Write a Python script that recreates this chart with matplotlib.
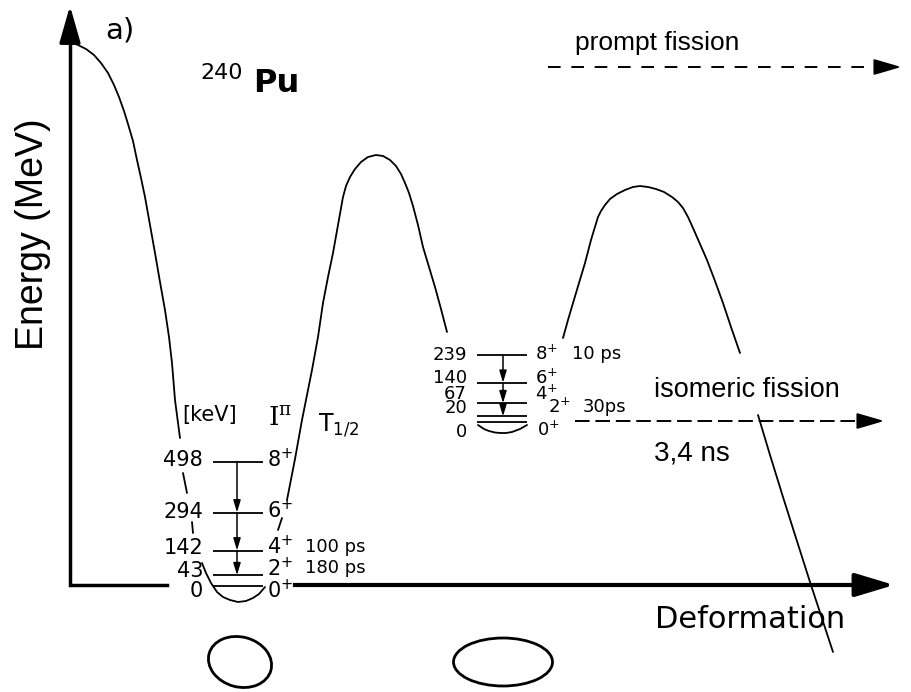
import matplotlib.pyplot as plt
from matplotlib.patches import Ellipse

# fission barrier of 240Pu, drawn on a canvas in picture units (x = deformation, y = energy down)
barrier = [
    [(70, 42), (78, 45), (86, 49), (94, 55), (101, 63), (108, 73), (114, 85),
     (119, 97), (124, 111), (128, 124), (133, 141), (137, 160), (141, 178),
     (145, 197), (150, 225), (155, 253), (160, 282), (165, 310), (169, 337),
     (172, 363), (175, 400), (180, 438)],
    [(183, 473), (187, 493)],
    [(192, 522), (193, 533)],
    [(202, 563), (206, 573), (211, 583), (217, 592), (223, 597), (230, 600),
     (238, 602), (246, 601), (253, 598), (259, 594), (265, 587)],
    [(278, 530), (282, 518)],
    [(287, 500), (295, 459), (302, 420), (308, 390), (312, 370), (318, 337),
     (323, 303), (328, 277), (333, 253), (338, 225), (343, 197), (346, 186),
     (350, 177), (355, 169), (361, 162), (368, 157), (376, 155), (383, 156),
     (390, 160), (396, 166), (401, 174), (405, 183), (409, 193), (413, 206),
     (418, 225), (423, 247), (429, 267), (435, 287), (441, 309), (447, 332)],
    [(478, 425), (484, 429), (489, 431), (495, 432.5), (500, 433), (506, 433),
     (512, 432), (520, 429), (527, 425)],
    [(563, 338), (568, 320), (573, 303), (579, 283), (585, 263), (591, 240),
     (598, 217), (601, 211), (605, 205), (610, 199), (617, 194), (625, 190),
     (633, 187), (640, 186), (648, 187), (656, 189), (664, 192), (672, 197),
     (678, 202), (683, 208), (688, 217), (693, 228), (700, 244), (707, 260),
     (715, 281), (723, 303), (731, 327), (740, 353)],
    [(758, 415), (770, 455), (783, 497), (796, 538), (810, 582), (833, 652)],
]

# ground state band (first well)
gs_energy = [0, 43, 142, 294, 498]       # keV
gs_spin = ['0', '2', '4', '6', '8']
gs_halflife = ['', '180 ps', '100 ps', '', '']

# shape isomer band (second well)
iso_energy = [0, 20, 67, 140, 239]       # keV
iso_spin = ['0', '2', '4', '6', '8']
iso_halflife = ['', '30ps', '', '', '10 ps']

# where each band sits on the canvas
gs_base, gs_scale = 586, 0.25
iso_base, iso_scale = 422, 0.28
gs_x = (213, 263)
iso_x = (477, 527)
gs_label_dy = [5, -4, -2, -1, -2]
gs_spin_dy = [4, -7, -4, -2, -2]
iso_label_dy = [10, -8, -9, -5, 0]
iso_spin_dy = [8, -9, -9, -5, -1]
iso_spin_x = [537, 548, 535, 535, 535]


def band(energy, spin, halflife, base, scale, xr, label_dy, spin_dy, spin_x, hl_x,
         arrow_x, size):
    ys = [base - scale * e for e in energy]
    ax.hlines(ys, xr[0], xr[1], color='black', lw=1.3)
    for i, y in enumerate(ys):
        ax.text(xr[0] - 10, y + label_dy[i], str(energy[i]), ha='right', va='center',
                family='DejaVu Sans', fontsize=size)
        ax.text(spin_x[i], y + spin_dy[i], spin[i] + r'$^{+}$', ha='left', va='center',
                family='DejaVu Sans', fontsize=size)
        if halflife[i]:
            ax.text(hl_x[i], y + spin_dy[i], halflife[i], ha='left', va='center',
                    family='DejaVu Sans', fontsize=13)
    # E2 cascade down to the 2+ state
    for i in range(len(ys) - 1, 1, -1):
        ax.annotate('', xy=(arrow_x, ys[i - 1]), xytext=(arrow_x, ys[i]),
                    arrowprops=dict(arrowstyle='-|>,head_length=0.6,head_width=0.18',
                                    color='black', lw=1.1, mutation_scale=12,
                                    shrinkA=0, shrinkB=0))


arial = dict(family='Liberation Sans')

fig = plt.figure(figsize=(9.11, 6.92), dpi=100)
ax = fig.add_axes([0, 0, 1, 1])
ax.set_xlim(0, 911)
ax.set_ylim(692, 0)
ax.axis('off')

# axes of the sketch
ax.plot([70, 70, 167], [30, 585, 585], color='black', lw=2.5, solid_joinstyle='miter')
ax.plot([295, 880], [585, 585], color='black', lw=3)
ax.annotate('', xy=(70, 3), xytext=(70, 32),
            arrowprops=dict(arrowstyle='-|>,head_length=1.4,head_width=0.4',
                            color='black', lw=2.5, mutation_scale=16))
ax.annotate('', xy=(897, 585), xytext=(870, 585),
            arrowprops=dict(arrowstyle='-|>,head_length=1.5,head_width=0.45',
                            color='black', lw=3, mutation_scale=16))

for seg in barrier:
    xs, ys = zip(*seg)
    ax.plot(xs, ys, color='black', lw=1.3, solid_capstyle='round',
            solid_joinstyle='round')

band(gs_energy, gs_spin, gs_halflife, gs_base, gs_scale, gs_x, gs_label_dy, gs_spin_dy,
     [267] * 5, [305] * 5, 237, 15)
band(iso_energy, iso_spin, iso_halflife, iso_base, iso_scale, iso_x, iso_label_dy, iso_spin_dy,
     iso_spin_x, [583, 583, 583, 583, 572], 503, 13)

# column headers
ax.text(210, 415, '[keV]', ha='center', va='center', family='DejaVu Sans', fontsize=15)
ax.text(268, 419, r'$\mathrm{I}^{\mathrm{\pi}}$', ha='left', va='center', fontsize=19,
        math_fontfamily='dejavuserif')
ax.text(318, 425, r'$\mathrm{T}_{1/2}$', ha='left', va='center', fontsize=17)

# fission paths
ax.plot([548, 888], [67, 67], color='black', lw=1.4, ls=(0, (6.5, 5.5)))
ax.annotate('', xy=(904, 67), xytext=(884, 67),
            arrowprops=dict(arrowstyle='-|>,head_length=1.2,head_width=0.35',
                            color='black', lw=1.4, mutation_scale=14))
ax.plot([575, 870], [421, 421], color='black', lw=1.4, ls=(0, (7.5, 3)))
ax.annotate('', xy=(887, 421), xytext=(866, 421),
            arrowprops=dict(arrowstyle='-|>,head_length=1.2,head_width=0.35',
                            color='black', lw=1.4, mutation_scale=14))

ax.text(575, 43, 'prompt fission', ha='left', va='center', fontsize=19, **arial)
ax.text(654, 390, 'isomeric fission', ha='left', va='center', fontsize=19.5, **arial)
ax.text(654, 453, '3,4 ns', ha='left', va='center', fontsize=20, **arial)

# titles and axis names
ax.text(105, 30, 'a)', ha='left', va='center', fontsize=21, family='DejaVu Sans')
ax.text(200, 73, '240', ha='left', va='center', fontsize=16, family='DejaVu Sans')
ax.text(253, 83, 'Pu', ha='left', va='center', fontsize=23, fontweight='bold',
        family='DejaVu Sans')
ax.text(33, 234, 'Energy (MeV)', rotation=90, ha='center', va='center', fontsize=27, **arial)
ax.text(750, 620, 'Deformation', ha='center', va='center', fontsize=22,
        family='DejaVu Sans')

# nuclear shapes under the two minima
ax.add_patch(Ellipse((240, 662), 64, 50, angle=15, fill=False, color='black', lw=2))
ax.add_patch(Ellipse((503, 662), 99, 48, angle=0, fill=False, color='black', lw=2))

fig.savefig('out.png', dpi=100)
